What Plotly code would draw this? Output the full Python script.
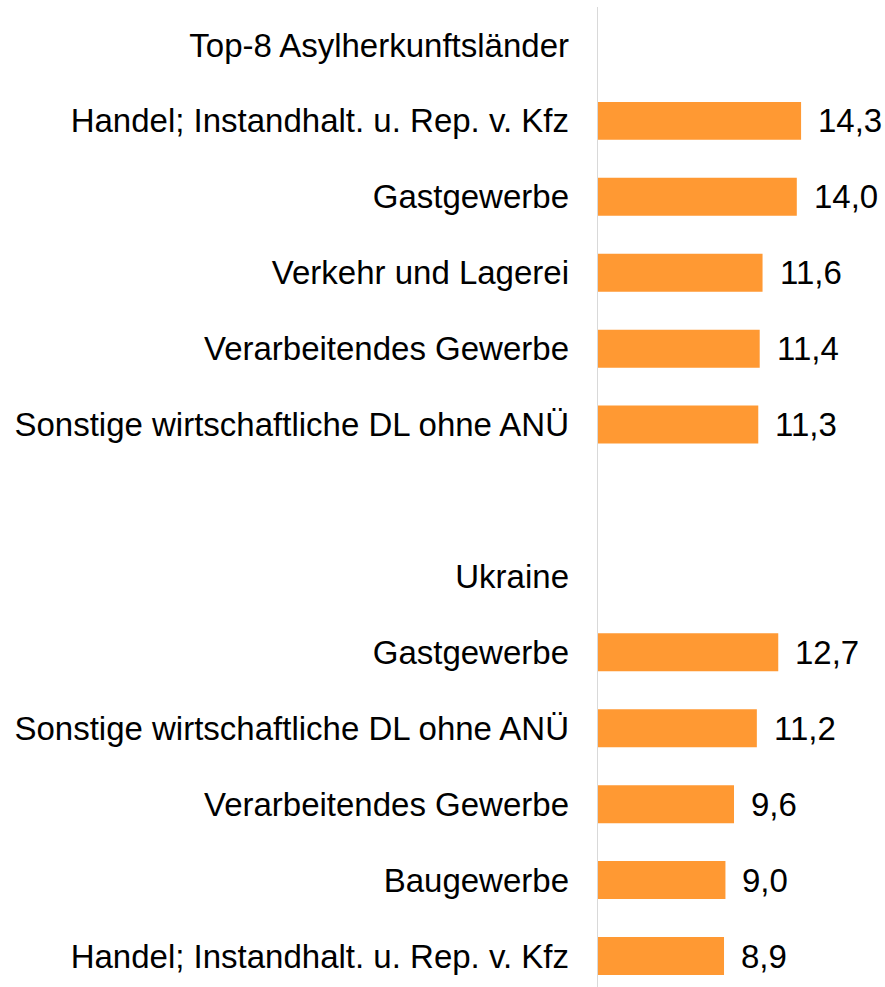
import plotly.graph_objects as go

row_labels = [
    "Top-8 Asylherkunftsländer",
    "Handel; Instandhalt. u. Rep. v. Kfz",
    "Gastgewerbe",
    "Verkehr und Lagerei",
    "Verarbeitendes Gewerbe",
    "Sonstige wirtschaftliche DL ohne ANÜ",
    "",
    "Ukraine",
    "Gastgewerbe",
    "Sonstige wirtschaftliche DL ohne ANÜ",
    "Verarbeitendes Gewerbe",
    "Baugewerbe",
    "Handel; Instandhalt. u. Rep. v. Kfz",
]
values = [None, 14.3, 14.0, 11.6, 11.4, 11.3, None, None, 12.7, 11.2, 9.6, 9.0, 8.9]

positions = list(range(len(row_labels)))
bar_pos = [p for p, v in zip(positions, values) if v is not None]
bar_val = [v for v in values if v is not None]

FONT = "Liberation Sans, Arial, sans-serif"
SIZE = 33

fig = go.Figure(go.Bar(
    x=bar_val, y=bar_pos, orientation="h", width=0.5,
    marker=dict(color="#FF9933", line=dict(width=0)),
    hoverinfo="skip",
))

for p, v in zip(bar_pos, bar_val):
    fig.add_annotation(x=v, y=p, text=f"{v:.1f}".replace(".", ","),
                       xanchor="left", yanchor="middle", xshift=15, showarrow=False,
                       font=dict(family=FONT, size=SIZE, color="#000000"))

fig.update_layout(
    width=885, height=987,
    margin=dict(l=597, r=0, t=7, b=0, pad=0),
    paper_bgcolor="white", plot_bgcolor="white",
    showlegend=False,
    font=dict(family=FONT, size=SIZE, color="#000000"),
    xaxis=dict(range=[0, 20.18], visible=False, fixedrange=True),
    yaxis=dict(
        range=[12.408, -0.5], tickmode="array", tickvals=positions, ticktext=row_labels,
        showgrid=False, zeroline=False, showline=False, ticks="",
        ticklabelstandoff=27, tickfont=dict(family=FONT, size=SIZE, color="#000000"),
        automargin=False, fixedrange=True,
    ),
    shapes=[dict(type="line", xref="x", yref="paper", x0=0, x1=0, y0=0, y1=1,
                 line=dict(color="#D9D9D9", width=2))],
)

fig.write_html("out.html", config={"displayModeBar": False},
               post_script="document.body.style.margin='0';document.body.style.overflow='hidden';")
